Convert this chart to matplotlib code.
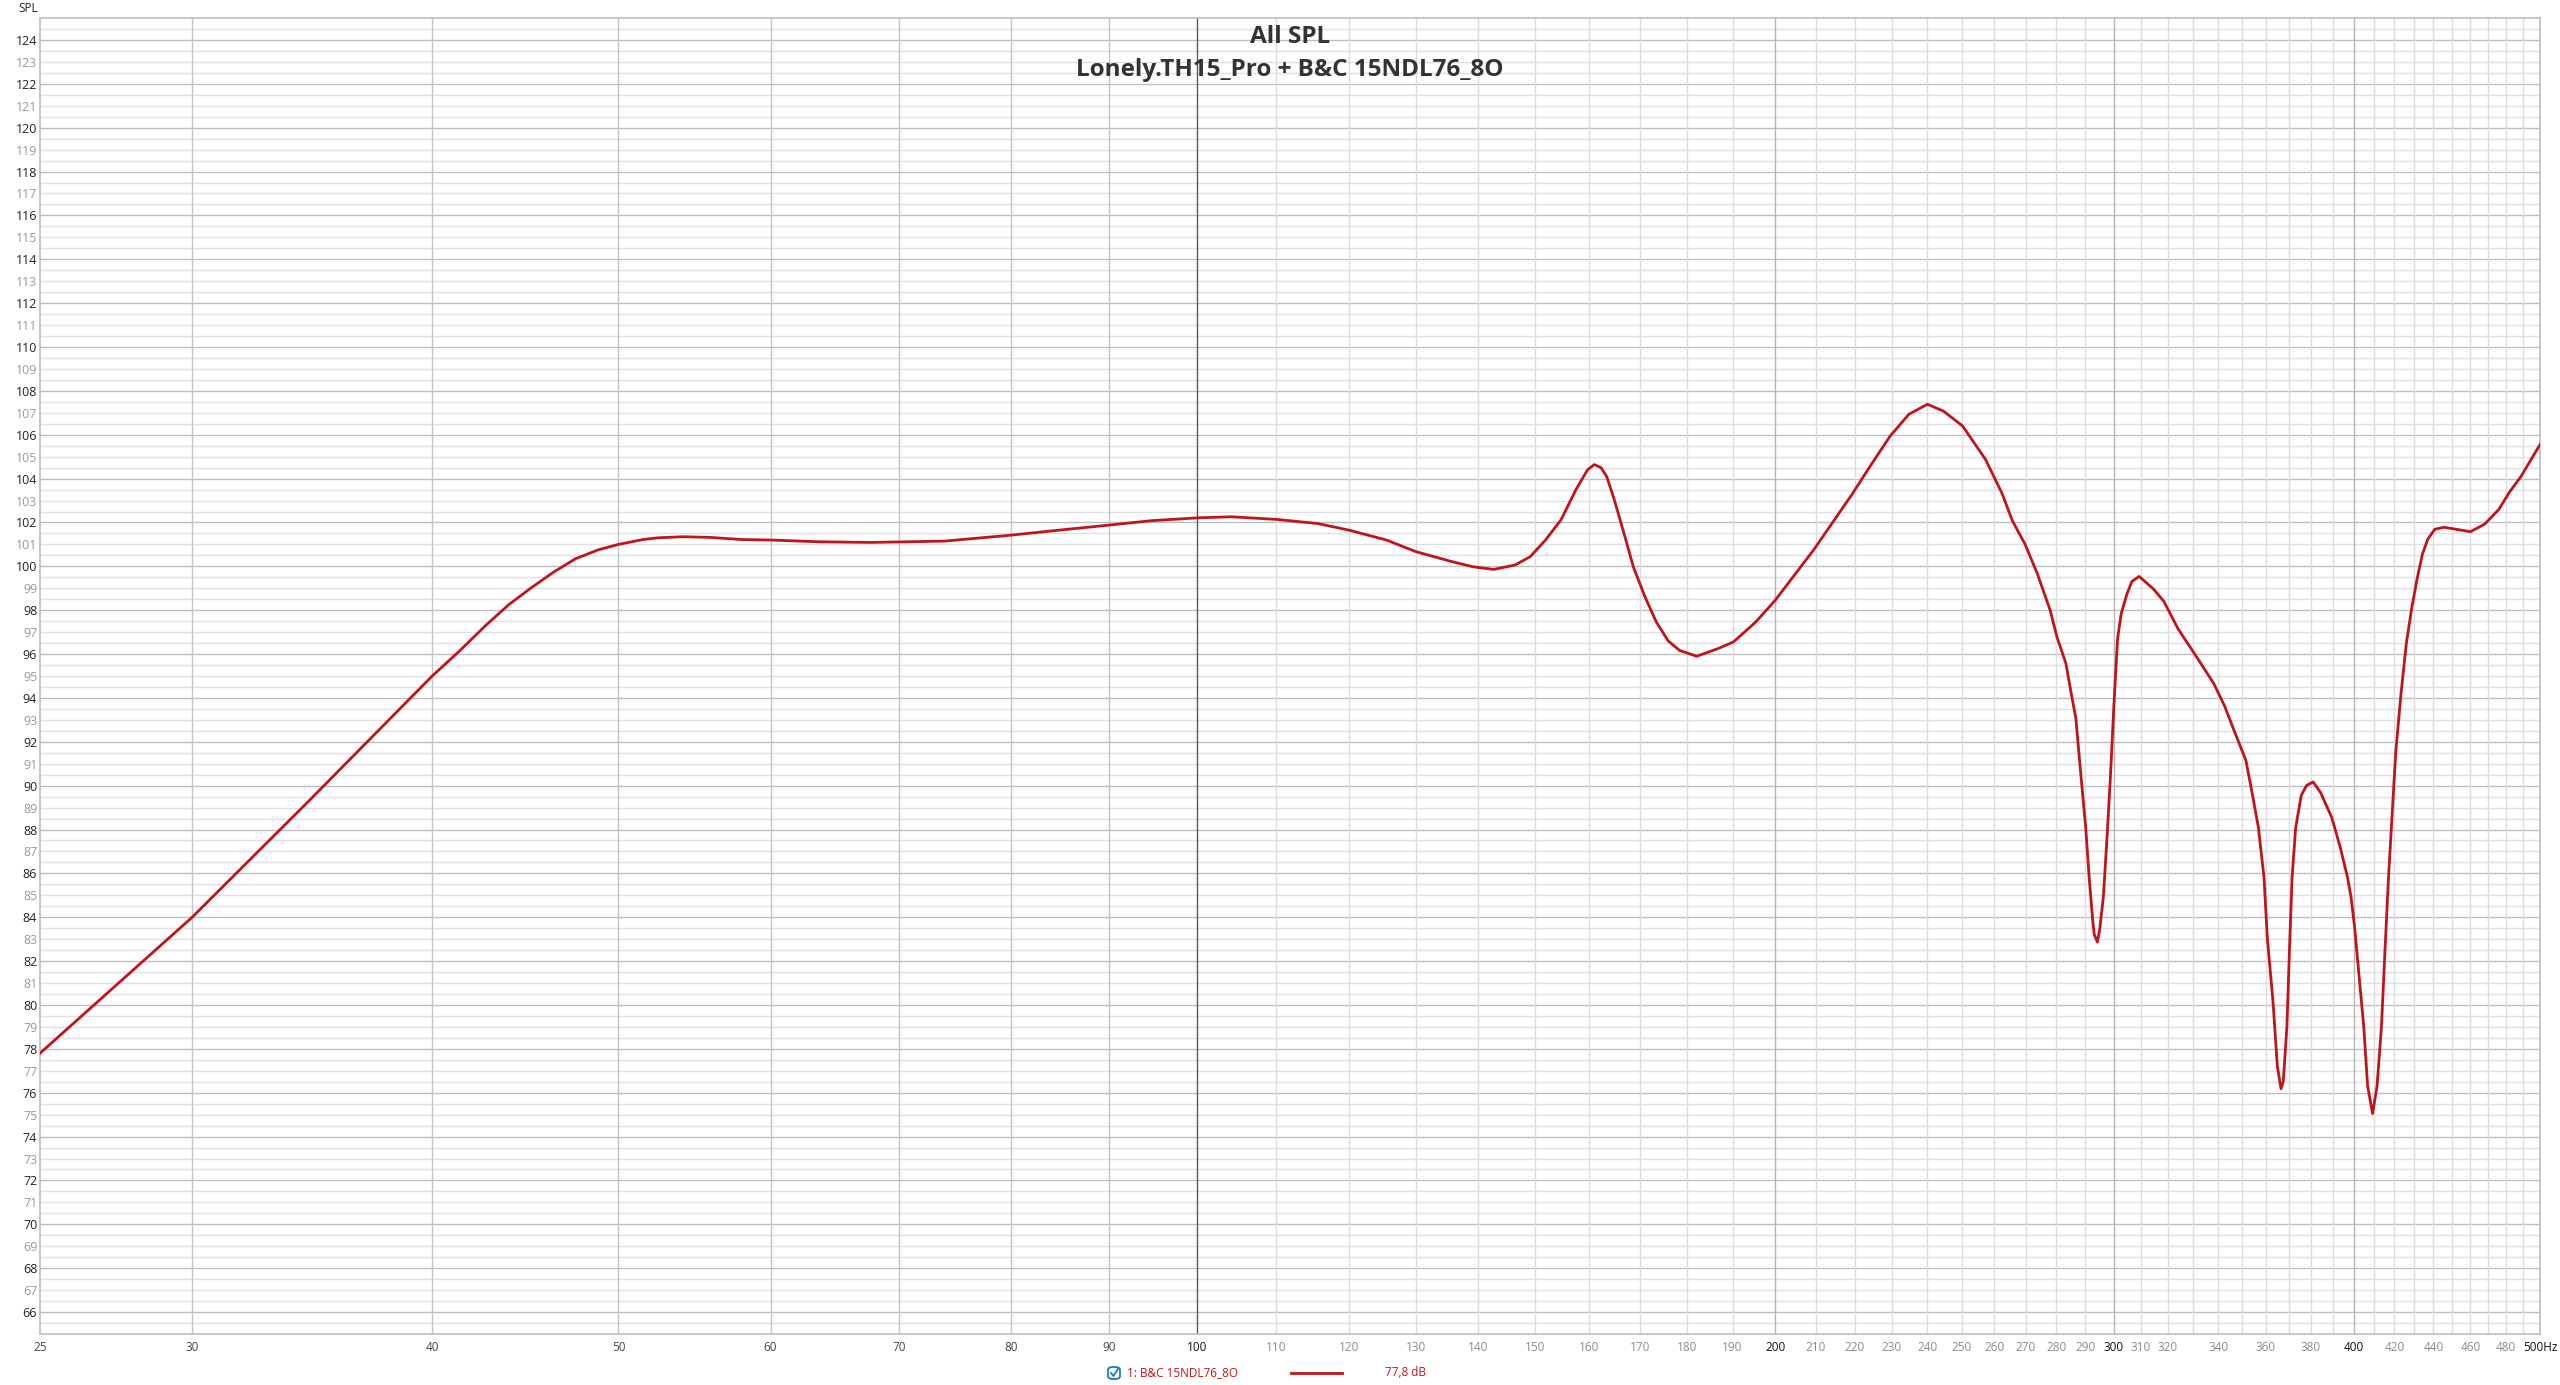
import matplotlib
matplotlib.use("Agg")
import numpy as np
from matplotlib import pyplot as plt
from matplotlib.patches import FancyBboxPatch
from matplotlib.lines import Line2D

plt.rcParams['font.family'] = ['Open Sans', 'DejaVu Sans']

# SPL curve (Hz, dB)
freq = [25, 30, 34.5, 40, 41.34, 42.7, 43.84, 45.0, 46.27, 47.5, 48.8, 50,
        51.48, 52.41, 54, 55.78, 58, 60, 63.52, 67.6, 73.91, 80, 84.78, 90,
        94.66, 100, 104.2, 110, 115.6, 120, 125.5, 130, 135.4, 139.2, 142.7,
        146.4, 149.1, 151.85, 154.7, 157.5, 159.7, 161.0, 162.3, 163.4, 164.9,
        167.2, 168.7, 171.1, 173.4, 175.9, 178.3, 182, 186.6, 190.2, 195.4,
        200, 209.4, 214.1, 219.2, 224.2, 229.5, 234.7, 240, 244.6, 250.3,
        257.3, 262.5, 265.7, 269.8, 273.8, 278, 280.2, 283.3, 285.1, 286.7,
        288.2, 290.1, 291.3, 292.6, 293.1, 294.2, 295.0, 296.3, 297.6, 298.8,
        300.1, 301.4, 302.7, 304.8, 306.6, 309.3, 314.6, 318.6, 324, 331.1,
        338.2, 342.6, 347, 351.5, 354.5, 356.8, 359.2, 360.6, 363.1, 365.0,
        366.6, 367.6, 369.2, 370.3, 371.5, 373.1, 375.6, 378.0, 381, 384.5,
        389.6, 393.6, 397, 398.7, 400.4, 402.6, 404.8, 406.7, 409.1, 411.3,
        413.5, 415.2, 417, 420.6, 423.3, 426, 428.7, 431.5, 434.3, 437.1,
        440.8, 445.6, 452.2, 460, 467.9, 476, 482.1, 488.5, 500]
spl = [77.8, 84.0, 89.3, 95.0, 96.15, 97.35, 98.25, 99.0, 99.74, 100.35, 100.75,
       101.0, 101.22, 101.3, 101.35, 101.32, 101.22, 101.2, 101.12, 101.09,
       101.15, 101.42, 101.65, 101.88, 102.08, 102.21, 102.26, 102.14, 101.95,
       101.65, 101.2, 100.67, 100.24, 99.98, 99.86, 100.06, 100.44, 101.2,
       102.12, 103.5, 104.4, 104.64, 104.5, 104.1, 103.04, 101.2, 99.98, 98.6,
       97.47, 96.6, 96.17, 95.9, 96.24, 96.55, 97.47, 98.46, 100.75, 101.97,
       103.27, 104.6, 105.94, 106.93, 107.39, 107.08, 106.4, 104.87, 103.3,
       102.08, 101.0, 99.65, 98.0, 96.82, 95.57, 94.21, 93.07, 90.81, 88.1,
       85.82, 83.78, 83.21, 82.87, 83.44, 84.91, 87.63, 90.35, 93.76, 96.7,
       97.84, 98.74, 99.31, 99.54, 98.97, 98.4, 97.16, 95.91, 94.66, 93.64,
       92.39, 91.15, 89.45, 88.09, 85.82, 83.1, 80.15, 77.2, 76.18, 76.52,
       79.02, 82.42, 85.82, 88.09, 89.56, 90.01, 90.17, 89.67, 88.54, 87.18,
       85.82, 84.91, 83.55, 81.28, 79.02, 76.3, 75.05, 76.3, 79.02, 82.42,
       85.82, 91.49, 94.21, 96.48, 98.06, 99.42, 100.56, 101.24, 101.69,
       101.78, 101.69, 101.58, 101.92, 102.6, 103.39, 104.07, 105.55]

series_name = "1: B&C 15NDL76_8O"
series_value = "77,8 dB"
title_lines = ["All SPL", "Lonely.TH15_Pro + B&C 15NDL76_8O"]

x_labels = [25, 30, 40, 50, 60, 70, 80, 90, 100, 110, 120, 130, 140, 150, 160,
            170, 180, 190, 200, 210, 220, 230, 240, 250, 260, 270, 280, 290,
            300, 310, 320, 340, 360, 380, 400, 420, 440, 460, 480, 500]
x_grid = list(range(30, 100, 10)) + list(range(100, 501, 10))
y_labels = list(range(66, 125))

curve_col = '#c0141c'

fig = plt.figure(figsize=(25.6, 13.85), dpi=100)
ax = fig.add_axes([40 / 2560, 1 - 1334 / 1385, 2500 / 2560, 1316 / 1385])
ax.set_xscale('log')
ax.set_xlim(25, 500)
ax.set_ylim(65, 125)

# horizontal grid every 0.5 dB, even values darker
for v in np.arange(65.5, 125, 0.5):
    col = '#bebebe' if (v % 2 == 0) else '#e0e0e0'
    ax.axhline(v, color=col, lw=1.0, zorder=0)

# vertical grid
for f in x_grid:
    if f == 100:
        col = '#5a5a5a'
    elif f % 100 == 0:
        col = '#b4b4b4'
    elif f < 100:
        col = '#c4c4c4'
    else:
        col = '#dddddd'
    ax.axvline(f, color=col, lw=1.0, zorder=0)

ax.plot(freq, spl, color=curve_col, lw=2.0, zorder=3,
        solid_joinstyle='round', antialiased=True)

for s in ax.spines.values():
    s.set_color('#bdbdbd')
    s.set_linewidth(1.2)

ax.set_xticks(x_labels)
ax.set_xticklabels([str(f) if f != 500 else '500Hz' for f in x_labels])
ax.xaxis.set_minor_locator(matplotlib.ticker.NullLocator())
ax.set_yticks(y_labels)
ax.set_yticklabels([str(v) for v in y_labels])
ax.tick_params(axis='x', length=0, pad=5, labelsize=8.5)
ax.tick_params(axis='y', length=0, pad=2, labelsize=9)

for lab, f in zip(ax.get_xticklabels(), x_labels):
    if f % 100 == 0:
        lab.set_color('#111111')
    elif f < 100:
        lab.set_color('#444444')
    else:
        lab.set_color('#8a8a8a')
for lab, v in zip(ax.get_yticklabels(), y_labels):
    lab.set_color('#222222' if v % 2 == 0 else '#999999')

fig.text(28 / 2560, 1 - 9 / 1385, "SPL", ha='center', va='center',
         fontsize=8.5, color='#222222')

fig.text(0.5039, 1 - 43 / 1385, title_lines[0], ha='center', va='baseline',
         fontsize=17.5, fontweight='bold', color='#333333')
fig.text(0.5039, 1 - 76 / 1385, title_lines[1], ha='center', va='baseline',
         fontsize=17.5, fontweight='bold', color='#333333')

# legend row at the bottom
ly = 1 - 1373 / 1385
box = FancyBboxPatch((1108 / 2560, ly - 6 / 1385), 12 / 2560, 12 / 1385,
                     boxstyle="round,pad=0,rounding_size=0.002",
                     transform=fig.transFigure, facecolor='white',
                     edgecolor='#1a78d2', lw=1.3)
fig.patches.append(box)
fig.lines.append(Line2D([1111 / 2560, 1113.5 / 2560, 1118 / 2560],
                        [ly, ly - 3 / 1385, ly + 4 / 1385],
                        transform=fig.transFigure, color='#1a78d2', lw=1.3))
fig.text(1127 / 2560, ly, series_name, ha='left', va='center',
         fontsize=8.5, color=curve_col)
fig.lines.append(Line2D([1291 / 2560, 1342 / 2560], [ly, ly],
                        transform=fig.transFigure, color=curve_col, lw=2.0))
fig.text(1426 / 2560, ly, series_value, ha='right', va='center',
         fontsize=8.5, color=curve_col)

fig.savefig("out.png", dpi=100)
